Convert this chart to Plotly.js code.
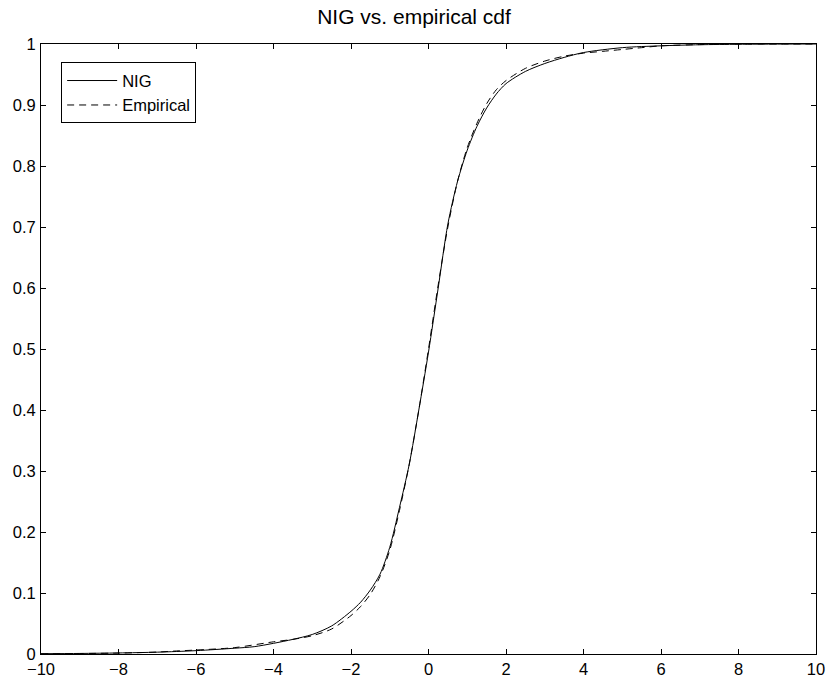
<!DOCTYPE html>
<html>
<head>
<meta charset="utf-8">
<script src="https://cdn.plot.ly/plotly-3.0.1.min.js"></script>
<style>html,body{margin:0;padding:0;background:#fff;}#chart{width:828px;height:680px;}</style>
</head>
<body>
<div id="chart"></div>
<script>
const nigX = [-10, -9, -8, -7, -6, -5, -4.5, -4, -3.5, -3, -2.5, -2, -1.75, -1.5, -1.25, -1, -0.75, -0.5, -0.25, 0, 0.25, 0.5, 0.75, 1, 1.25, 1.5, 1.75, 2, 2.5, 3, 3.5, 4, 5, 6, 7, 8, 9, 10];
const nigY = [0.0005, 0.0009, 0.0017, 0.0030, 0.0055, 0.0095, 0.012, 0.0175, 0.024, 0.032, 0.046, 0.070, 0.085, 0.105, 0.131, 0.175, 0.240, 0.310, 0.400, 0.495, 0.600, 0.705, 0.775, 0.826, 0.865, 0.895, 0.918, 0.935, 0.955, 0.968, 0.978, 0.986, 0.994, 0.997, 0.9988, 0.9995, 0.9998, 1.0];
const empX = [-10, -9, -8, -7, -6.5, -6, -5, -4, -3.5, -3, -2.5, -2, -1.75, -1.5, -1.25, -1, -0.75, -0.5, -0.25, 0, 0.25, 0.5, 0.75, 1, 1.25, 1.5, 1.75, 2, 2.5, 3, 3.5, 4, 4.5, 5, 5.5, 6, 7, 8, 10];
const empY = [0.0003, 0.0008, 0.0015, 0.0032, 0.0050, 0.0065, 0.0105, 0.020, 0.024, 0.030, 0.041, 0.063, 0.078, 0.098, 0.127, 0.170, 0.235, 0.310, 0.400, 0.500, 0.605, 0.700, 0.775, 0.830, 0.870, 0.902, 0.925, 0.940, 0.960, 0.972, 0.980, 0.985, 0.988, 0.991, 0.994, 0.997, 0.999, 1.0, 1.0];
const xTicks = [-10, -8, -6, -4, -2, 0, 2, 4, 6, 8, 10];
const yTicks = [0, 0.1, 0.2, 0.3, 0.4, 0.5, 0.6, 0.7, 0.8, 0.9, 1];

const font = {family: 'Liberation Sans, Arial, sans-serif', color: '#000'};
const traces = [
  {x: nigX, y: nigY, type: 'scatter', mode: 'lines', name: 'NIG',
   line: {color: '#000', width: 1, shape: 'spline', smoothing: 0.8}},
  {x: empX, y: empY, type: 'scatter', mode: 'lines', name: 'Empirical',
   line: {color: '#000', width: 1, dash: '7px,5px', shape: 'spline', smoothing: 0.8}}
];
const axisCommon = {
  showline: true, linecolor: '#000', linewidth: 1, mirror: 'ticks',
  ticks: 'inside', ticklen: 5, tickcolor: '#000', tickwidth: 1,
  showgrid: false, zeroline: false,
  tickfont: Object.assign({size: 16.5}, font)
};
const layout = {
  width: 828, height: 680,
  paper_bgcolor: '#fff', plot_bgcolor: '#fff',
  margin: {l: 41, r: 12, t: 44, b: 26},
  title: {text: 'NIG vs. empirical cdf', font: Object.assign({size: 21}, font),
          x: 0.5, xanchor: 'center', y: 1 - 17/680, yanchor: 'middle'},
  xaxis: Object.assign({range: [-10, 10], tickvals: xTicks, ticklabelstandoff: 0}, axisCommon),
  yaxis: Object.assign({range: [0, 1], tickvals: yTicks, ticklabelstandoff: 1}, axisCommon),
  showlegend: true,
  legend: {x: 0.026, y: 0.970, xanchor: 'left', yanchor: 'top',
           bgcolor: '#fff', bordercolor: '#000', borderwidth: 1,
           itemwidth: 50,
           font: Object.assign({size: 16.5}, font), tracegroupgap: 0}
};
Plotly.newPlot('chart', traces, layout, {displayModeBar: false, staticPlot: true});
</script>
</body>
</html>
